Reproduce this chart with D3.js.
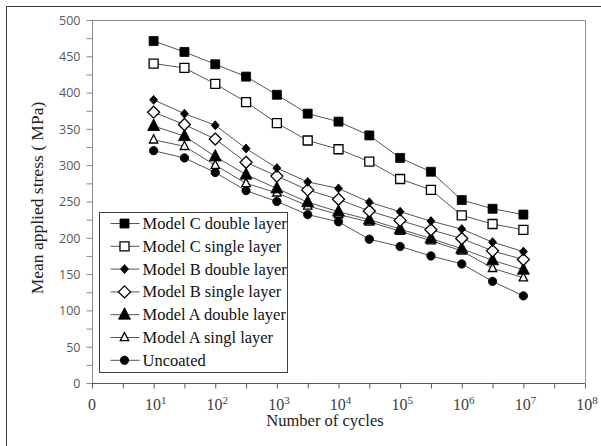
<!DOCTYPE html>
<html lang="en">
  <head>
    <meta charset="utf-8">
    <script src="https://cdnjs.cloudflare.com/ajax/libs/d3/7.8.5/d3.min.js"></script>
    <style>
      body { margin: 0; background: #fff; }
      .serif { font-family: "Liberation Serif", "Times New Roman", serif; }
      .ytick text { font-family: "Open Sans", "Liberation Sans", sans-serif; font-size: 12.5px; fill: #595959; }
      .xtick text { font-family: "Liberation Serif", serif; font-size: 16px; fill: #404040; }
      .series path.line { fill: none; stroke: #555; stroke-width: 1; }
    </style>
  </head>

  <body>

  <script>
  // x position = log10(number of cycles)
  var logCycles = [1, 1.5, 2, 2.5, 3, 3.5, 4, 4.5, 5, 5.5, 6, 6.5, 7];

  var seriesNames = [
    'Model C double layer',
    'Model C single layer',
    'Model B double layer',
    'Model B single layer',
    'Model A double layer',
    'Model A singl layer',
    'Uncoated'
  ];

  var modelCDouble = [471, 456, 439, 422, 397, 371, 360, 341, 310, 291, 252, 240, 232];
  var modelCSingle = [440, 434, 412, 387, 358, 334, 322, 305, 281, 266, 231, 219, 211];
  var modelBDouble = [390, 371, 355, 323, 296, 277, 268, 249, 236, 223, 212, 194, 181];
  var modelBSingle = [373, 356, 336, 304, 285, 266, 253, 237, 224, 211, 199, 182, 170];
  var modelADouble = [354, 340, 312, 287, 268, 249, 236, 225, 212, 199, 185, 169, 156];
  var modelASingle = [335, 326, 300, 275, 262, 244, 232, 222, 209, 196, 182, 158, 145];
  var uncoated     = [320, 310, 290, 265, 250, 232, 222, 198, 188, 175, 164, 140, 120];

  var yTicks = [0, 50, 100, 150, 200, 250, 300, 350, 400, 450, 500];
  var xTickLabels = ['0', '1', '2', '3', '4', '5', '6', '7', '8'];

  var values = [modelCDouble, modelCSingle, modelBDouble, modelBSingle, modelADouble, modelASingle, uncoated];
  var markers = ['squareFill', 'squareOpen', 'diamondFill', 'diamondOpen', 'triFill', 'triOpen', 'circleFill'];

  var width = 601,
      height = 446;

  var svg = d3.select('body')
    .append('svg')
    .attr('width', width)
    .attr('height', height);

  var x = d3.scaleLinear().domain([0, 8]).range([92, 585]);
  var y = d3.scaleLinear().domain([0, 500]).range([383, 20]);

  // outer frame (left and top edges only are visible)
  svg.append('path')
    .attr('d', 'M6.5,' + height + 'V6.5H' + width)
    .attr('fill', 'none')
    .attr('stroke', '#333')
    .attr('stroke-width', 1);

  // plot frame top / right
  svg.append('path')
    .attr('d', 'M' + x(0) + ',' + (y(500) + 0.5) + 'H' + (x(8) + 0.5) + 'V' + y(0))
    .attr('fill', 'none')
    .attr('stroke', '#8c8c8c');

  // y axis
  var yAxis = d3.axisLeft(y)
    .tickValues(d3.range(0, 501, 25))
    .tickSize(6)
    .tickFormat(d => yTicks.indexOf(d) >= 0 ? d : '');

  svg.append('g')
    .attr('class', 'ytick')
    .attr('transform', 'translate(' + (x(0) + 0.5) + ',0)')
    .call(yAxis)
    .call(g => g.select('.domain').attr('stroke', '#8c8c8c').attr('d', 'M0,' + y(500) + 'V' + y(0)))
    .call(g => g.selectAll('.tick line').attr('stroke', '#8c8c8c'))
    .call(g => g.selectAll('.tick text').attr('x', -12).attr('dy', '0.35em'));

  // x axis
  var xAxis = d3.axisBottom(x)
    .tickValues(d3.range(0, 8.01, 0.5))
    .tickSize(5)
    .tickFormat('');

  var xg = svg.append('g')
    .attr('class', 'xtick')
    .attr('transform', 'translate(0,' + (y(0) + 0.5) + ')')
    .call(xAxis)
    .call(g => g.select('.domain').attr('stroke', '#595959').attr('d', 'M' + x(0) + ',0H' + x(8)))
    .call(g => g.selectAll('.tick line').attr('stroke', '#595959'));

  xg.selectAll('.xlab')
    .data(xTickLabels)
    .enter().append('text')
      .attr('class', 'xlab')
      .attr('x', (d, i) => x(i) + (i === 0 ? 0 : 2))
      .attr('y', 26)
      .attr('text-anchor', 'middle')
      .each(function (d, i) {
        var t = d3.select(this);
        if (i === 0) { t.text('0').attr('font-size', '14px'); return; }
        t.append('tspan').text('10');
        t.append('tspan').attr('font-size', '11px').attr('dy', '-6').text(d);
      });

  // axis titles
  svg.append('text')
    .attr('class', 'serif')
    .attr('transform', 'translate(43,198) rotate(-90)')
    .attr('text-anchor', 'middle')
    .attr('font-size', '17.5px')
    .attr('fill', '#222')
    .text('Mean applied stress ( MPa)');

  svg.append('text')
    .attr('class', 'serif')
    .attr('x', 325)
    .attr('y', 426)
    .attr('text-anchor', 'middle')
    .attr('font-size', '16.5px')
    .attr('fill', '#222')
    .text('Number of cycles');

  // marker shapes
  function drawMarker(sel, type) {
    var filled = /Fill$/.test(type);
    var p;
    if (type === 'squareFill') p = 'M-4.5,-4.5H4.5V4.5H-4.5Z';
    else if (type === 'squareOpen') p = 'M-4.5,-4.5H4.5V4.5H-4.5Z';
    else if (type === 'diamondFill') p = 'M0,-4.5L4,0L0,4.5L-4,0Z';
    else if (type === 'diamondOpen') p = 'M0,-6L6,0L0,6L-6,0Z';
    else if (type === 'triFill') p = 'M0,-7L6,4.5H-6Z';
    else if (type === 'triOpen') p = 'M0,-5L4.2,3.2H-4.2Z';
    else p = d3.symbol(d3.symbolCircle, 55)();
    sel.append('path')
      .attr('d', p)
      .attr('fill', filled ? '#000' : '#fff')
      .attr('stroke', '#000')
      .attr('stroke-width', filled ? 0.8 : 1.3);
  }

  var line = d3.line()
    .x((d, i) => x(logCycles[i]))
    .y(d => y(d));

  // draw from bottom series up so the legend's first entries sit on top
  var order = d3.range(values.length).reverse();

  order.forEach(k => {
    var g = svg.append('g').attr('class', 'series');
    g.append('path')
      .attr('class', 'line')
      .attr('d', line(values[k]));
  });

  order.forEach(k => {
    var g = svg.append('g');
    g.selectAll('g.pt')
      .data(values[k])
      .enter().append('g')
        .attr('class', 'pt')
        .attr('transform', (d, i) => 'translate(' + x(logCycles[i]) + ',' + y(d) + ')')
        .each(function () { drawMarker(d3.select(this), markers[k]); });
  });

  // legend
  var legend = svg.append('g').attr('transform', 'translate(99.5,212.5)');

  legend.append('rect')
    .attr('width', 188)
    .attr('height', 160)
    .attr('fill', '#fff')
    .attr('stroke', '#404040');

  var rows = legend.selectAll('g.row')
    .data(seriesNames)
    .enter().append('g')
      .attr('class', 'row')
      .attr('transform', (d, i) => 'translate(0,' + (11 + i * 22.8) + ')');

  rows.append('line')
    .attr('x1', 11).attr('x2', 40)
    .attr('stroke', '#555');

  rows.append('g')
    .attr('transform', 'translate(25,0)')
    .each(function (d, i) { drawMarker(d3.select(this), markers[i]); });

  rows.append('text')
    .attr('class', 'serif')
    .attr('x', 43)
    .attr('y', 5.5)
    .attr('font-size', '16.5px')
    .attr('fill', '#111')
    .text(d => d);

  </script>
  </body>
</html>
